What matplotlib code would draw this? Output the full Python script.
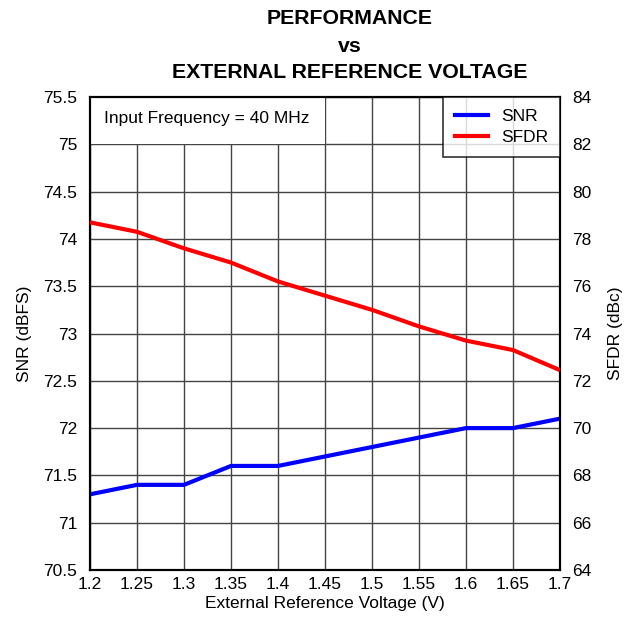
import matplotlib
matplotlib.use("Agg")
import matplotlib.pyplot as plt
from matplotlib.patches import Rectangle
from matplotlib.lines import Line2D

plt.rcParams['font.family'] = ['Liberation Sans', 'DejaVu Sans']

voltage = [1.2, 1.25, 1.3, 1.35, 1.4, 1.45, 1.5, 1.55, 1.6, 1.65, 1.7]
snr = [71.3, 71.4, 71.4, 71.6, 71.6, 71.7, 71.8, 71.9, 72.0, 72.0, 72.1]
sfdr = [78.7, 78.3, 77.6, 77.0, 76.2, 75.6, 75.0, 74.3, 73.7, 73.3, 72.45]

x_ticks = [1.2, 1.25, 1.3, 1.35, 1.4, 1.45, 1.5, 1.55, 1.6, 1.65, 1.7]
x_labels = ['1.2', '1.25', '1.3', '1.35', '1.4', '1.45', '1.5', '1.55', '1.6', '1.65', '1.7']
left_ticks = [70.5, 71, 71.5, 72, 72.5, 73, 73.5, 74, 74.5, 75, 75.5]
left_labels = ['70.5', '71', '71.5', '72', '72.5', '73', '73.5', '74', '74.5', '75', '75.5']
right_ticks = [64, 66, 68, 70, 72, 74, 76, 78, 80, 82, 84]

fig = plt.figure(figsize=(6.39, 6.18), dpi=100)
W, H = 639, 618
ax = fig.add_axes([90 / W, 1 - 570 / H, 470 / W, 473 / H])
ax2 = ax.twinx()

ax.set_xlim(1.2, 1.7)
ax.set_ylim(70.5, 75.5)
ax2.set_ylim(64, 84)

ax.set_xticks(x_ticks)
ax.set_xticklabels(x_labels)
ax.set_yticks(left_ticks)
ax.set_yticklabels(left_labels)
ax2.set_yticks(right_ticks)

ax.grid(True, color='#444444', linewidth=1.0)
ax.set_axisbelow(True)

for a in (ax, ax2):
    a.tick_params(labelsize=12.5, length=0, pad=9)
    for s in a.spines.values():
        s.set_linewidth(1.5)
        s.set_color('black')
ax.tick_params(axis='x', pad=5)

# white box behind the annotation text
ax.add_patch(Rectangle((1.2, 75.0), 0.25, 0.5, facecolor='white', edgecolor='none', zorder=1.5))
ax.text(1.215, 75.27, 'Input Frequency = 40 MHz', fontsize=12.5, va='center', ha='left', zorder=3)

ax.plot(voltage, snr, color='blue', linewidth=3, zorder=4, solid_capstyle='butt')
ax2.plot(voltage, sfdr, color='red', linewidth=3, zorder=4, solid_capstyle='butt')

handles = [Line2D([], [], color='blue', linewidth=3), Line2D([], [], color='red', linewidth=3)]
leg = ax2.legend(handles, ['SNR', 'SFDR'], loc='upper right', fontsize=12.5, frameon=True,
                 fancybox=False, borderaxespad=0, handlelength=1.9, handletextpad=0.75,
                 labelspacing=0.3, borderpad=0.7)
leg.get_frame().set_edgecolor('black')
leg.get_frame().set_linewidth(1.2)

ax.set_xlabel('External Reference Voltage (V)', fontsize=12.5, labelpad=3)
ax.set_ylabel('SNR (dBFS)', fontsize=12.5, labelpad=8)
ax2.set_ylabel('SFDR (dBc)', fontsize=12.5, labelpad=12)

fig.text(350 / W, 1 - 18 / H, 'PERFORMANCE', fontsize=15.3, fontweight='bold', ha='center', va='center')
fig.text(350 / W, 1 - 46 / H, 'vs', fontsize=15.3, fontweight='bold', ha='center', va='center')
fig.text(350 / W, 1 - 72 / H, 'EXTERNAL REFERENCE VOLTAGE', fontsize=15.3, fontweight='bold', ha='center', va='center')

fig.savefig('out.png', dpi=100, facecolor='white')
